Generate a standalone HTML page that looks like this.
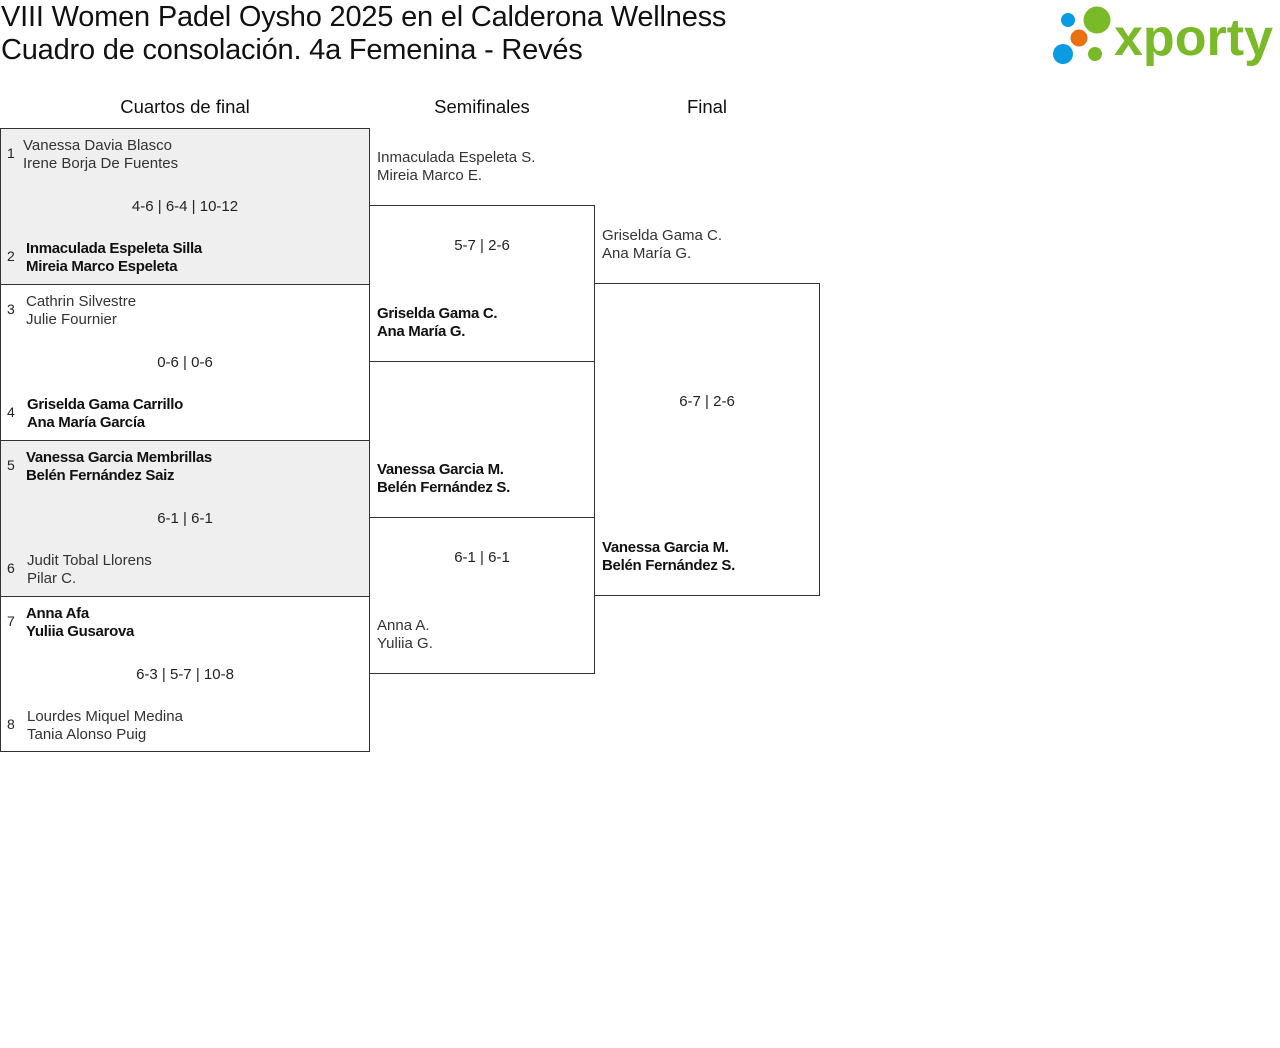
<!DOCTYPE html>
<html><head><meta charset="utf-8"><style>
body{margin:0;width:1280px;height:1048px;background:#fff;font-family:"Liberation Sans",sans-serif;position:relative;overflow:hidden;color:#222}
.a{position:absolute;white-space:nowrap}
.t{font-size:29px;color:#111;letter-spacing:-0.2px;line-height:33px}
.h{font-size:18.5px;color:#111;text-align:center;width:300px}
.b{position:absolute;border:1px solid #333;box-sizing:border-box}
.g{background:#efefef}
.n{font-size:15px;line-height:18px;color:#333;margin-top:1px}
.w{color:#111;font-weight:bold;font-size:15px;letter-spacing:-0.3px}
.s{font-size:15px;text-align:center;color:#222;margin-top:1px}
.num{font-size:14px;color:#222}
</style></head><body>
<div class="a t" style="left:1px;top:1px">VIII Women Padel Oysho 2025 en el Calderona Wellness</div>
<div class="a t" style="left:1px;top:34px">Cuadro de consolación. 4a Femenina - Revés</div>
<svg class="a" style="left:1050px;top:4px" width="230" height="62" viewBox="0 0 230 62">
<circle cx="18" cy="16" r="7" fill="#0a9be3"/><circle cx="47" cy="16" r="13.5" fill="#7ab928"/>
<circle cx="29" cy="34" r="8.5" fill="#e8700e"/><circle cx="13" cy="50" r="10" fill="#0a9be3"/>
<circle cx="45" cy="50" r="7" fill="#7ab928"/>
<text x="64" y="51" font-family="Liberation Sans,sans-serif" font-weight="bold" font-size="52" fill="#7ab928" textLength="159" lengthAdjust="spacingAndGlyphs">xporty</text></svg>

<div class="a h" style="left:35px;top:96px">Cuartos de final</div>
<div class="a h" style="left:332px;top:96px">Semifinales</div>
<div class="a h" style="left:557px;top:96px">Final</div>

<div class="b g" style="left:0;top:128px;width:370px;height:157px"></div>
<div class="b" style="left:0;top:284px;width:370px;height:157px"></div>
<div class="b g" style="left:0;top:440px;width:370px;height:157px"></div>
<div class="b" style="left:0;top:596px;width:370px;height:156px"></div>
<div class="b" style="left:369px;top:205px;width:226px;height:157px"></div>
<div class="b" style="left:369px;top:517px;width:226px;height:157px"></div>
<div class="b" style="left:594px;top:283px;width:226px;height:313px"></div>

<div class="a num" style="left:7px;top:145px">1</div><div class="a n" style="left:23px;top:136px">Vanessa Davia Blasco<br>Irene Borja De Fuentes</div>
<div class="a s" style="left:35px;width:300px;top:197px">4-6 | 6-4 | 10-12</div>
<div class="a num" style="left:7px;top:248px">2</div><div class="a n w" style="left:26px;top:239px">Inmaculada Espeleta Silla<br>Mireia Marco Espeleta</div>

<div class="a num" style="left:7px;top:301px">3</div><div class="a n" style="left:26px;top:292px">Cathrin Silvestre<br>Julie Fournier</div>
<div class="a s" style="left:35px;width:300px;top:353px">0-6 | 0-6</div>
<div class="a num" style="left:7px;top:404px">4</div><div class="a n w" style="left:27px;top:395px">Griselda Gama Carrillo<br>Ana María García</div>

<div class="a num" style="left:7px;top:457px">5</div><div class="a n w" style="left:26px;top:448px">Vanessa Garcia Membrillas<br>Belén Fernández Saiz</div>
<div class="a s" style="left:35px;width:300px;top:509px">6-1 | 6-1</div>
<div class="a num" style="left:7px;top:560px">6</div><div class="a n" style="left:27px;top:551px">Judit Tobal Llorens<br>Pilar C.</div>

<div class="a num" style="left:7px;top:613px">7</div><div class="a n w" style="left:26px;top:604px">Anna Afa<br>Yuliia Gusarova</div>
<div class="a s" style="left:35px;width:300px;top:665px">6-3 | 5-7 | 10-8</div>
<div class="a num" style="left:7px;top:716px">8</div><div class="a n" style="left:27px;top:707px">Lourdes Miquel Medina<br>Tania Alonso Puig</div>

<div class="a n" style="left:377px;top:148px">Inmaculada Espeleta S.<br>Mireia Marco E.</div>
<div class="a s" style="left:370px;width:224px;top:236px">5-7 | 2-6</div>
<div class="a n w" style="left:377px;top:304px">Griselda Gama C.<br>Ana María G.</div>
<div class="a n w" style="left:377px;top:460px">Vanessa Garcia M.<br>Belén Fernández S.</div>
<div class="a s" style="left:370px;width:224px;top:548px">6-1 | 6-1</div>
<div class="a n" style="left:377px;top:616px">Anna A.<br>Yuliia G.</div>

<div class="a n" style="left:602px;top:226px">Griselda Gama C.<br>Ana María G.</div>
<div class="a s" style="left:595px;width:224px;top:392px">6-7 | 2-6</div>
<div class="a n w" style="left:602px;top:538px">Vanessa Garcia M.<br>Belén Fernández S.</div>
</body></html>
